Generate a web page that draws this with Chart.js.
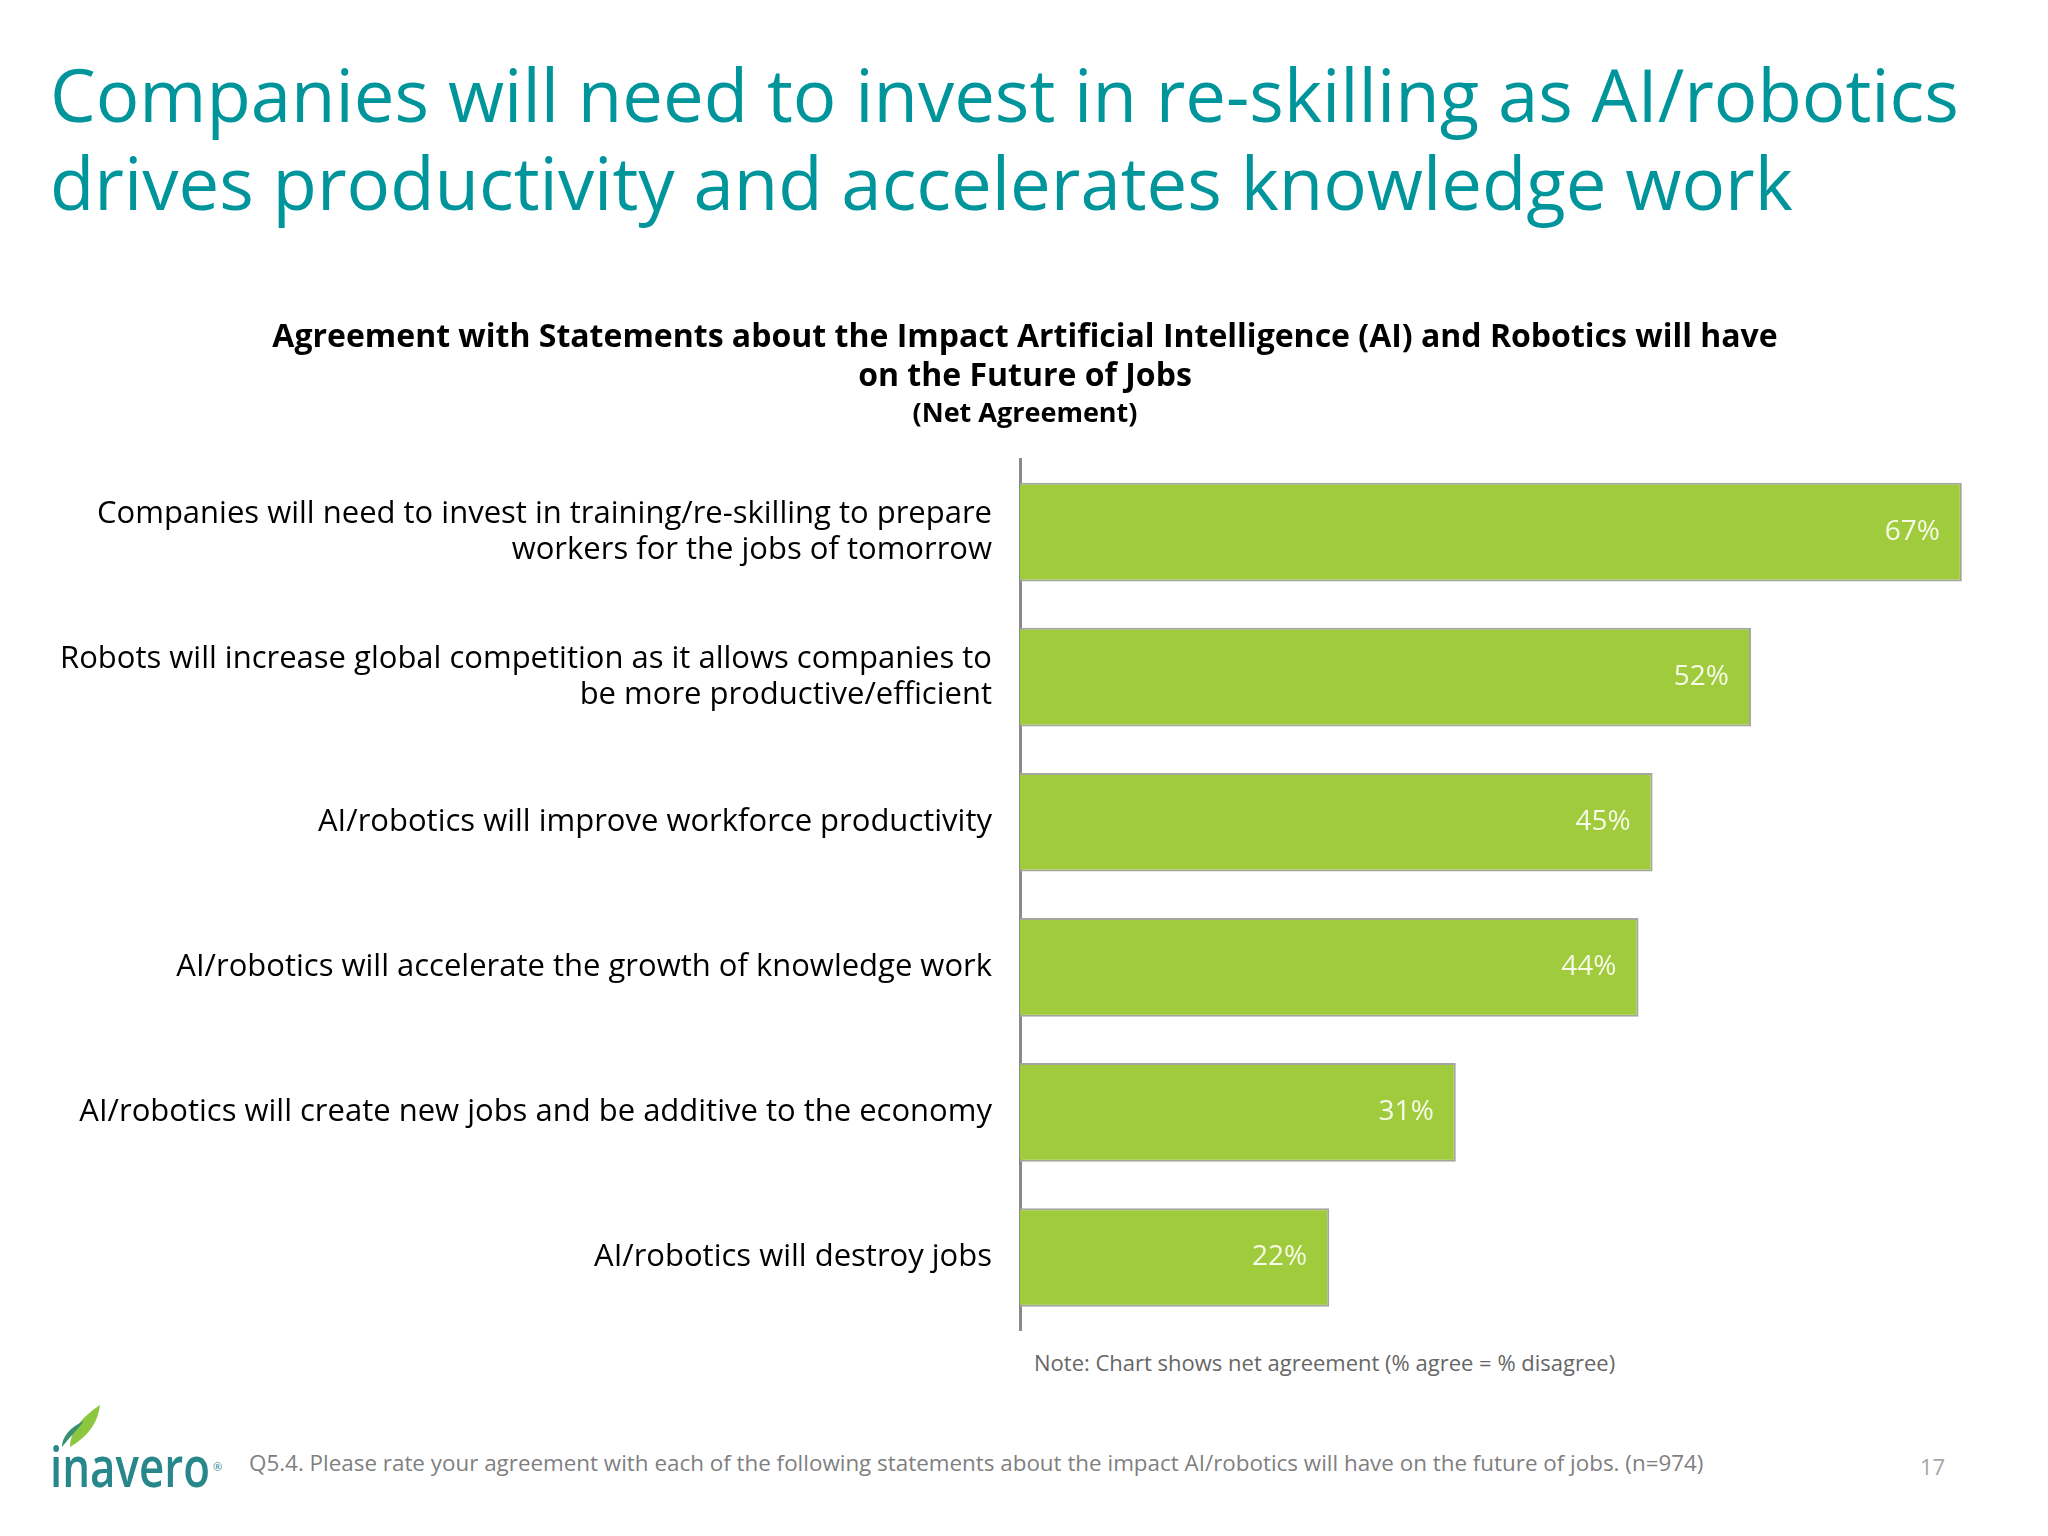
<!DOCTYPE html>
<html>
<head>
<meta charset="utf-8">
<script src="https://cdn.jsdelivr.net/npm/chart.js@4/dist/chart.umd.min.js"></script>
<style>
  html, body { margin: 0; padding: 0; background: #ffffff; }
  body { width: 2048px; height: 1536px; position: relative; overflow: hidden; font-family: "Open Sans", sans-serif; }
  #heading { position: absolute; left: 50px; top: 50px; margin: 0; font-family: "Open Sans", sans-serif; font-weight: 400; font-size: 72.5px; line-height: 88px; color: #00959b; white-space: nowrap; }
  #chartBox { position: absolute; left: 46px; top: 300px; width: 2002px; height: 1040px; }
  #note { position: absolute; left: 1034px; top: 1347px; font-size: 22px; color: #666666; font-family: "Open Sans", sans-serif; white-space: nowrap; }
  #footer { position: absolute; left: 249px; top: 1447px; font-size: 22.4px; color: #7f7f7f; white-space: nowrap; }
  #page { position: absolute; left: 1920px; top: 1451px; font-size: 22px; color: #a6a6a6; }
  #logo { position: absolute; left: 40px; top: 1395px; width: 200px; height: 100px; }
</style>
</head>
<body>
<h1 id="heading">Companies will need to invest in re-skilling as AI/robotics<br>drives productivity and accelerates knowledge work</h1>
<div id="chartBox"><canvas id="c" width="2002" height="1040" style="width:2002px;height:1040px;display:block"></canvas></div>
<div id="note">Note: Chart shows net agreement (% agree = % disagree)</div>
<div id="footer">Q5.4. Please rate your agreement with each of the following statements about the impact AI/robotics will have on the future of jobs. (n=974)</div>
<div id="page">17</div>
<svg id="logo" viewBox="0 0 200 100" xmlns="http://www.w3.org/2000/svg">
  <path d="M60 10 C 58 26, 50 40, 30 52 C 30 36, 42 22, 60 10 Z" fill="#8dc63f"/>
  <path d="M44 26 C 38 34, 30 42, 22 52 C 22 42, 30 32, 44 26 Z" fill="#3a8f70"/>
  <text x="10" y="92" font-family="Open Sans, sans-serif" font-weight="600" font-size="56" fill="#27878b" textLength="160" lengthAdjust="spacingAndGlyphs">inavero</text>
  <text x="173" y="76" font-family="Open Sans, sans-serif" font-size="11" fill="#27878b">®</text>
</svg>
<script>
const categories = [
  ["Companies will need to invest in training/re-skilling to prepare", "workers for the jobs of tomorrow"],
  ["Robots will increase global competition as it allows companies to", "be more productive/efficient"],
  ["AI/robotics will improve workforce productivity"],
  ["AI/robotics will accelerate the growth of knowledge work"],
  ["AI/robotics will create new jobs and be additive to the economy"],
  ["AI/robotics will destroy jobs"]
];
const netAgreement = [67, 52, 45, 44, 31, 22];
const chartTitle = ["Agreement with Statements about the Impact Artificial Intelligence (AI) and Robotics will have", "on the Future of Jobs"];
const chartSubtitle = "(Net Agreement)";

const valueLabels = {
  id: 'valueLabels',
  afterDatasetsDraw(chart) {
    const ctx = chart.ctx;
    const meta = chart.getDatasetMeta(0);
    ctx.save();
    ctx.fillStyle = '#f6fae8';
    ctx.font = '28px "Open Sans", sans-serif';
    ctx.textAlign = 'right';
    ctx.textBaseline = 'middle';
    meta.data.forEach((bar, i) => {
      ctx.fillText(netAgreement[i] + '%', bar.x - 22, bar.y);
    });
    ctx.restore();
  }
};

new Chart(document.getElementById('c'), {
  type: 'bar',
  data: {
    labels: categories,
    datasets: [{
      data: netAgreement,
      backgroundColor: '#a0cb3c',
      borderColor: '#a3a69c',
      borderWidth: 2,
      borderSkipped: 'start',
      categoryPercentage: 1.0,
      barPercentage: 0.68
    }]
  },
  options: {
    indexAxis: 'y',
    responsive: false,
    maintainAspectRatio: false,
    animation: false,
    devicePixelRatio: 1,
    layout: { padding: { left: 0, right: 44, top: 0, bottom: 10 } },
    plugins: {
      legend: { display: false },
      tooltip: { enabled: false },
      title: {
        display: true,
        text: chartTitle,
        color: '#000000',
        font: { family: '"Open Sans", sans-serif', size: 32, weight: 'bold', lineHeight: 1.22 },
        padding: { top: 18, bottom: 0 }
      },
      subtitle: {
        display: true,
        text: chartSubtitle,
        color: '#000000',
        font: { family: '"Open Sans", sans-serif', size: 27, weight: 'bold', lineHeight: 1.35 },
        padding: { top: 0, bottom: 27 }
      }
    },
    scales: {
      x: { display: false, min: 0, max: 70 },
      y: {
        afterFit(scale) { scale.width = 974; scale.paddingTop = 0; scale.paddingBottom = 0; },
        grid: { display: false, drawTicks: false },
        border: { display: true, color: '#8a8a8a', width: 3 },
        ticks: {
          color: '#000000',
          padding: 28,
          font: { family: '"Open Sans", sans-serif', size: 31, lineHeight: 1.18 }
        }
      }
    }
  },
  plugins: [valueLabels]
});
</script>
</body>
</html>
